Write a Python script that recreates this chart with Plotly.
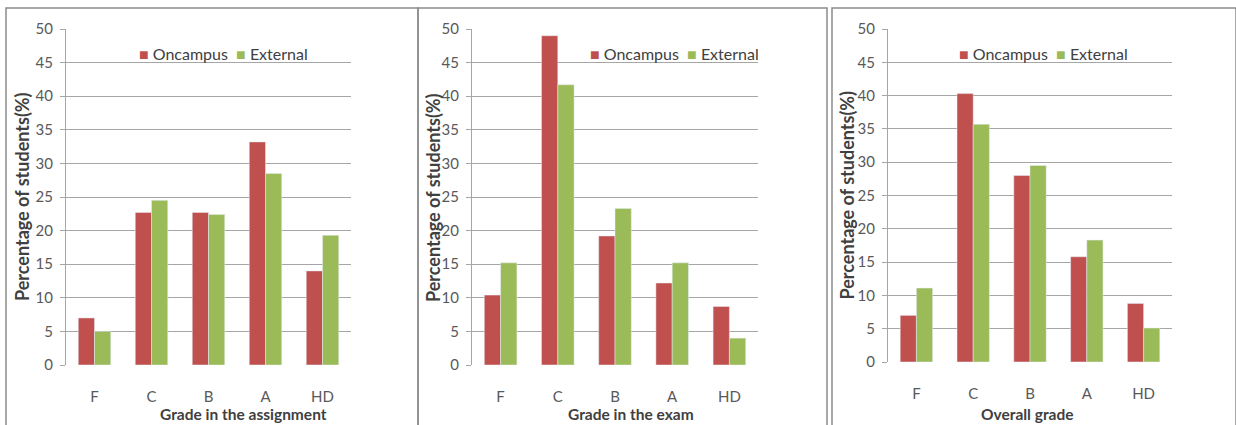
import plotly.graph_objects as go

grades = ["F", "C", "B", "A", "HD"]
assign_on = [7.0, 22.7, 22.7, 33.2, 14.0]
assign_ext = [5.0, 24.5, 22.4, 28.5, 19.3]
exam_on = [10.4, 49.0, 19.2, 12.2, 8.7]
exam_ext = [15.2, 41.7, 23.3, 15.2, 4.0]
overall_on = [7.0, 40.3, 28.0, 15.8, 8.8]
overall_ext = [11.1, 35.7, 29.5, 18.3, 5.1]
series_names = ["Oncampus", "External"]
x_titles = ["Grade in the assignment", "Grade in the exam", "Overall grade"]
y_title = "Percentage of students(%)"
y_ticks = [0, 5, 10, 15, 20, 25, 30, 35, 40, 45, 50]

W, H = 1236, 425
RED = "#C0504D"
GREEN = "#9BBB59"
GRID = "#A6A6A6"
FONT = "Lato, Liberation Sans, sans-serif"

# (on, ext, xtitle, x-range px, (y0px, y50px), legend start px, xtitle centre px, ytitle centre px)
panels = [
    (assign_on, assign_ext, x_titles[0], (66, 351), (365, 29), 137, 243, 22),
    (exam_on, exam_ext, x_titles[1], (472, 758), (365, 29), 588, 631, 433),
    (overall_on, overall_ext, x_titles[2], (888, 1172), (362, 29), 957, 1027, 847),
]

fig = go.Figure()
layout = dict(
    width=W, height=H, margin=dict(l=0, r=0, t=0, b=0, autoexpand=False),
    paper_bgcolor="white", plot_bgcolor="white",
    barmode="group", bargap=0.43, bargroupgap=0,
    font=dict(family=FONT, color="#595959"),
    showlegend=False,
)
annotations = []
shapes = []
for i, (on, ext, xt, (x0, x1), (yb, yt), lx, tx, ytx) in enumerate(panels):
    n = "" if i == 0 else str(i + 1)
    fig.add_trace(go.Bar(x=grades, y=on, name=series_names[0], marker_color=RED,
                         xaxis=f"x{n}", yaxis=f"y{n}"))
    fig.add_trace(go.Bar(x=grades, y=ext, name=series_names[1], marker_color=GREEN,
                         xaxis=f"x{n}", yaxis=f"y{n}"))
    layout[f"xaxis{n}"] = dict(
        domain=[x0 / W, x1 / W], anchor=f"y{n}", showgrid=False, showline=False,
        ticks="", tickfont=dict(size=15, color="#595959", family=FONT),
        ticklabelstandoff=21, automargin=False, fixedrange=True,
    )
    layout[f"yaxis{n}"] = dict(
        domain=[(H - yb) / H, (H - yt) / H], anchor=f"x{n}", range=[0, 50],
        tickvals=y_ticks, showgrid=True, gridcolor=GRID, gridwidth=1,
        showline=True, linecolor=GRID, linewidth=1, ticks="outside", ticklen=5,
        tickcolor=GRID, tickfont=dict(size=15, color="#595959", family=FONT),
        ticklabelstandoff=4, zeroline=False, automargin=False,
    )
    # legend drawn as real text: coloured squares + series names
    legend_text = (f"<span style='color:{RED}'>■</span> {series_names[0]}"
                   f"  <span style='color:{GREEN}'>■</span> {series_names[1]}")
    annotations.append(dict(
        text=legend_text, x=lx / W, y=(H - 53) / H, xref="paper", yref="paper",
        showarrow=False, font=dict(size=16, color="#404040", family=FONT),
        xanchor="left", yanchor="middle",
    ))
    annotations.append(dict(
        text=f"<b>{xt}</b>", x=tx / W, y=(H - 414) / H, xref="paper", yref="paper",
        showarrow=False, font=dict(size=15.5, color="#404040", family=FONT),
        xanchor="center", yanchor="middle",
    ))
    annotations.append(dict(
        text=f"<b>{y_title}</b>", x=ytx / W, y=(H - (yb + yt) / 2) / H,
        xref="paper", yref="paper", showarrow=False, textangle=-90,
        font=dict(size=18, color="#404040", family=FONT),
        xanchor="center", yanchor="middle",
    ))

# frames
for (a, b) in [(6, 418), (418, 827), (832, 1236)]:
    shapes.append(dict(type="rect", xref="paper", yref="paper",
                       x0=a / W, x1=b / W, y0=-0.01, y1=(H - 8) / H,
                       line=dict(color="#8C8C8C", width=1.5)))

layout["annotations"] = annotations
layout["shapes"] = shapes
fig.update_layout(**layout)
fig.write_html("out.html", config={"displayModeBar": False},
               post_script="document.body.style.margin='0';")
